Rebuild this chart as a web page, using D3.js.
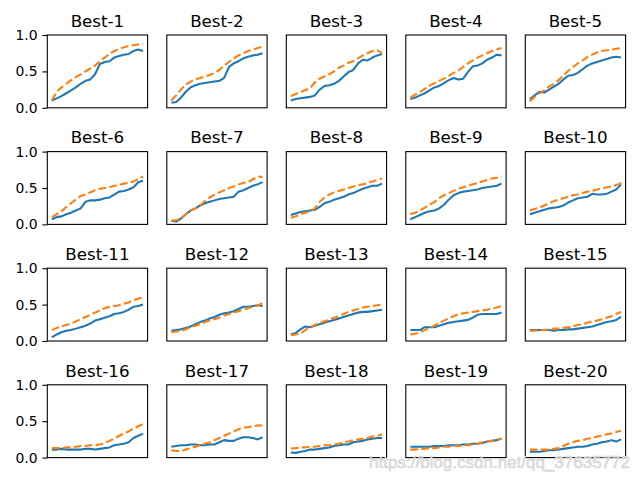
<!DOCTYPE html>
<html>
<head>
<meta charset="utf-8">
<script src="https://cdn.jsdelivr.net/npm/d3@7"></script>
<style>
  body { margin: 0; background: #fff; }
  text { font-family: "DejaVu Sans", sans-serif; }
</style>
</head>
<body>
<script>
var titles = ["Best-1","Best-2","Best-3","Best-4","Best-5","Best-6","Best-7","Best-8","Best-9","Best-10",
              "Best-11","Best-12","Best-13","Best-14","Best-15","Best-16","Best-17","Best-18","Best-19","Best-20"];
var yTicks = [0, 0.5, 1.0];

// solid blue line, one array per panel
var blueSeries = [
  [0.10,0.13,0.16,0.20,0.24,0.28,0.33,0.37,0.39,0.46,0.60,0.63,0.64,0.69,0.71,0.73,0.74,0.78,0.80,0.78],
  [0.07,0.08,0.14,0.22,0.28,0.31,0.33,0.34,0.35,0.36,0.37,0.41,0.56,0.61,0.64,0.68,0.70,0.72,0.73,0.75],
  [0.10,0.12,0.13,0.14,0.15,0.17,0.25,0.30,0.31,0.33,0.37,0.43,0.49,0.52,0.61,0.66,0.65,0.69,0.72,0.74],
  [0.12,0.14,0.17,0.20,0.24,0.28,0.30,0.34,0.38,0.41,0.39,0.40,0.49,0.57,0.58,0.61,0.66,0.69,0.73,0.72],
  [0.12,0.17,0.22,0.21,0.25,0.29,0.33,0.39,0.44,0.45,0.48,0.53,0.58,0.61,0.63,0.65,0.67,0.69,0.70,0.69],
  [0.07,0.10,0.11,0.14,0.16,0.19,0.22,0.31,0.33,0.33,0.34,0.36,0.37,0.41,0.45,0.46,0.48,0.51,0.58,0.60],
  [0.05,0.04,0.08,0.14,0.19,0.22,0.26,0.29,0.31,0.33,0.35,0.36,0.37,0.38,0.45,0.47,0.50,0.53,0.55,0.58],
  [0.13,0.15,0.17,0.18,0.19,0.20,0.24,0.29,0.31,0.34,0.36,0.38,0.41,0.43,0.46,0.49,0.51,0.53,0.53,0.56],
  [0.07,0.10,0.13,0.16,0.18,0.19,0.22,0.27,0.34,0.40,0.43,0.45,0.46,0.47,0.48,0.50,0.51,0.52,0.53,0.56],
  [0.14,0.16,0.18,0.20,0.22,0.23,0.24,0.26,0.30,0.33,0.36,0.37,0.38,0.42,0.41,0.41,0.42,0.45,0.48,0.55],
  [0.05,0.09,0.12,0.14,0.15,0.17,0.19,0.21,0.24,0.28,0.30,0.32,0.34,0.37,0.38,0.40,0.43,0.47,0.48,0.50],
  [0.14,0.15,0.16,0.18,0.20,0.23,0.26,0.28,0.31,0.33,0.36,0.38,0.39,0.41,0.44,0.47,0.47,0.48,0.49,0.48],
  [0.09,0.11,0.16,0.20,0.19,0.21,0.23,0.25,0.27,0.29,0.31,0.33,0.35,0.37,0.39,0.40,0.40,0.41,0.42,0.43],
  [0.15,0.15,0.15,0.19,0.19,0.19,0.21,0.23,0.25,0.26,0.27,0.28,0.29,0.32,0.36,0.37,0.37,0.37,0.37,0.39],
  [0.15,0.15,0.15,0.15,0.15,0.14,0.15,0.15,0.16,0.16,0.17,0.18,0.19,0.20,0.22,0.24,0.26,0.27,0.29,0.33],
  [0.11,0.11,0.12,0.11,0.11,0.11,0.11,0.12,0.12,0.11,0.12,0.13,0.14,0.17,0.18,0.19,0.21,0.27,0.30,0.33],
  [0.15,0.16,0.17,0.17,0.18,0.18,0.17,0.17,0.18,0.18,0.21,0.24,0.23,0.23,0.26,0.28,0.28,0.27,0.25,0.28],
  [0.07,0.065,0.08,0.09,0.11,0.11,0.12,0.13,0.14,0.16,0.17,0.18,0.18,0.21,0.22,0.23,0.25,0.26,0.27,0.27],
  [0.15,0.15,0.15,0.15,0.15,0.16,0.16,0.16,0.17,0.17,0.17,0.18,0.18,0.19,0.19,0.20,0.22,0.23,0.24,0.26],
  [0.08,0.08,0.08,0.09,0.10,0.10,0.11,0.12,0.13,0.14,0.15,0.15,0.16,0.18,0.19,0.21,0.22,0.24,0.22,0.25]
];

// dashed orange line, one array per panel
var orangeSeries = [
  [0.10,0.22,0.28,0.33,0.38,0.42,0.46,0.50,0.54,0.58,0.64,0.69,0.74,0.78,0.81,0.83,0.85,0.86,0.87,0.88],
  [0.10,0.17,0.25,0.32,0.36,0.39,0.41,0.43,0.45,0.48,0.52,0.58,0.63,0.68,0.72,0.75,0.78,0.80,0.82,0.84],
  [0.16,0.19,0.22,0.24,0.27,0.35,0.40,0.43,0.46,0.50,0.55,0.58,0.62,0.64,0.68,0.72,0.75,0.78,0.79,0.75],
  [0.14,0.18,0.22,0.26,0.30,0.34,0.37,0.40,0.44,0.48,0.51,0.56,0.61,0.65,0.69,0.72,0.75,0.78,0.80,0.82],
  [0.09,0.15,0.20,0.24,0.29,0.33,0.38,0.44,0.51,0.56,0.61,0.65,0.70,0.73,0.76,0.78,0.79,0.80,0.81,0.82],
  [0.10,0.14,0.18,0.24,0.29,0.34,0.39,0.41,0.44,0.47,0.49,0.50,0.51,0.53,0.54,0.56,0.57,0.59,0.62,0.66],
  [0.05,0.06,0.08,0.14,0.19,0.22,0.26,0.32,0.37,0.41,0.44,0.47,0.50,0.52,0.55,0.57,0.58,0.62,0.66,0.65],
  [0.09,0.11,0.14,0.16,0.18,0.22,0.31,0.37,0.41,0.44,0.46,0.48,0.50,0.52,0.54,0.55,0.57,0.59,0.61,0.63],
  [0.14,0.16,0.19,0.23,0.27,0.31,0.36,0.40,0.43,0.46,0.49,0.51,0.53,0.55,0.57,0.59,0.61,0.63,0.64,0.66],
  [0.19,0.21,0.23,0.26,0.29,0.32,0.34,0.36,0.38,0.40,0.41,0.43,0.45,0.46,0.48,0.49,0.51,0.52,0.54,0.57],
  [0.15,0.18,0.20,0.22,0.24,0.27,0.30,0.33,0.36,0.39,0.42,0.45,0.47,0.48,0.49,0.51,0.53,0.56,0.58,0.60],
  [0.12,0.13,0.14,0.16,0.19,0.21,0.23,0.26,0.28,0.30,0.32,0.35,0.37,0.39,0.41,0.43,0.45,0.47,0.49,0.52],
  [0.08,0.09,0.10,0.15,0.19,0.22,0.25,0.27,0.29,0.32,0.34,0.37,0.40,0.42,0.44,0.46,0.47,0.48,0.49,0.50],
  [0.09,0.10,0.12,0.15,0.18,0.21,0.25,0.28,0.31,0.34,0.37,0.38,0.39,0.40,0.41,0.42,0.43,0.45,0.46,0.48],
  [0.14,0.14,0.15,0.15,0.16,0.17,0.17,0.18,0.19,0.20,0.22,0.23,0.25,0.27,0.28,0.30,0.32,0.34,0.37,0.40],
  [0.13,0.13,0.13,0.14,0.14,0.15,0.16,0.16,0.17,0.17,0.18,0.20,0.23,0.26,0.30,0.33,0.36,0.40,0.43,0.46],
  [0.10,0.09,0.09,0.11,0.13,0.15,0.17,0.19,0.21,0.24,0.27,0.30,0.33,0.36,0.39,0.41,0.42,0.43,0.44,0.44],
  [0.125,0.13,0.14,0.14,0.15,0.15,0.16,0.17,0.17,0.18,0.19,0.21,0.22,0.24,0.25,0.26,0.27,0.29,0.30,0.32],
  [0.11,0.11,0.12,0.12,0.13,0.13,0.14,0.15,0.15,0.16,0.16,0.17,0.17,0.18,0.19,0.21,0.22,0.23,0.25,0.26],
  [0.11,0.11,0.11,0.11,0.11,0.12,0.13,0.16,0.19,0.21,0.23,0.24,0.26,0.27,0.29,0.30,0.32,0.33,0.35,0.37]
];

var W = 640, H = 480;
var cols = 5;
var panelW = 100.3, panelH = 72.8;
var left0 = 47.3, top0 = 35, stepX = 119.5, stepY = 116.6;

var svg = d3.select("body").append("svg")
    .attr("width", W)
    .attr("height", H);

var n = blueSeries[0].length;
var pad = (n - 1) * 0.05;
var x = d3.scaleLinear().domain([-pad, n - 1 + pad]).range([0, panelW]);
var y = d3.scaleLinear().domain([0, 1]).range([panelH, 0]);

var line = d3.line()
    .x(function(d, i) { return x(i); })
    .y(function(d) { return y(d); });

titles.forEach(function(t, k) {
  var c = k % cols, r = Math.floor(k / cols);
  var g = svg.append("g")
      .attr("transform", "translate(" + (left0 + c * stepX) + "," + (top0 + r * stepY) + ")");

  g.append("path")
      .datum(blueSeries[k])
      .attr("fill", "none")
      .attr("stroke", "#1f77b4")
      .attr("stroke-width", 2.08)
      .attr("stroke-linejoin", "round")
      .attr("d", line);

  g.append("path")
      .datum(orangeSeries[k])
      .attr("fill", "none")
      .attr("stroke", "#ff7f0e")
      .attr("stroke-width", 2.08)
      .attr("stroke-dasharray", "7.7,3.3")
      .attr("d", line);

  g.append("rect")
      .attr("width", panelW)
      .attr("height", panelH)
      .attr("fill", "none")
      .attr("stroke", "#000")
      .attr("stroke-width", 1.1);

  if (c === 0) {
    var ax = g.append("g")
        .call(d3.axisLeft(y).tickValues(yTicks).tickFormat(d3.format(".1f")).tickSize(4.9).tickPadding(4.9));
    ax.select(".domain").remove();
    ax.selectAll("line").attr("stroke-width", 1.1);
    ax.selectAll("text")
        .style("font-family", "DejaVu Sans")
        .style("font-size", "13.9px")
        .attr("fill", "#000");
  }

  g.append("text")
      .attr("x", panelW / 2)
      .attr("y", -8.3)
      .attr("text-anchor", "middle")
      .style("font-size", "16.7px")
      .attr("fill", "#000")
      .text(t);
});

// watermark from the source image
svg.append("text")
    .attr("x", 630)
    .attr("y", 468)
    .attr("text-anchor", "end")
    .style("font-family", "Liberation Sans, sans-serif")
    .style("font-size", "17px")
    .attr("fill", "#e3e3e3")
    .attr("stroke", "#d0d0d0")
    .attr("stroke-width", 0.5)
    .text("https://blog.csdn.net/qq_37635772");
</script>
</body>
</html>
